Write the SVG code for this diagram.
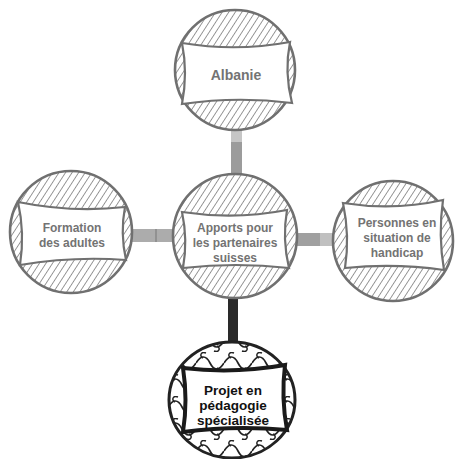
<svg xmlns="http://www.w3.org/2000/svg" width="455" height="459" viewBox="0 0 455 459">
<style>
.ring{fill:url(#hatch);stroke:#707070;stroke-width:2.6}
.box{fill:#fff;stroke:#707070;stroke-width:2.2}
.lbl{font-family:"Liberation Sans",Arial,sans-serif;font-weight:bold;font-size:12px;fill:#737373;text-anchor:middle}
.big{font-size:14px}
.dring{fill:url(#swirl);stroke:#222;stroke-width:3}
.dbox{fill:#fff;stroke:#1a1a1a;stroke-width:4}
.dlbl{fill:#111;font-size:13.5px}
</style>
<defs>
<pattern id="hatch" patternUnits="userSpaceOnUse" width="5.5" height="6" patternTransform="rotate(33)">
<rect width="5.5" height="6" fill="#fff"/>
<line x1="0" y1="0" x2="0" y2="6" stroke="#6e6e6e" stroke-width="1.4"/>
</pattern>
<pattern id="swirl" patternUnits="userSpaceOnUse" width="28" height="22">
<rect width="28" height="22" fill="#fff"/>
<path d="M0,11 C5,3 10,3 14,11 C18,19 23,19 28,11" fill="none" stroke="#222" stroke-width="1.7"/>
<path d="M7,6 c-4,-2 -2,-7 3,-5 M21,16 c4,2 2,7 -3,5" fill="none" stroke="#222" stroke-width="1.5"/>
</pattern>
</defs>
<rect width="455" height="459" fill="#fff"/>
<g id="connectors">
<rect x="231" y="129" width="11" height="48" fill="#9c9c9c"/>
<rect x="231" y="129" width="11" height="13" fill="#c6c6c6"/>
<rect x="131" y="229" width="43" height="13" fill="#acacac"/>
<line x1="156" y1="229" x2="156" y2="242" stroke="#888" stroke-width="1.5"/>
<rect x="296" y="233" width="38" height="13" fill="#a0a0a0"/>
<rect x="320" y="233" width="14" height="13" fill="#c0c0c0"/>
<rect x="228" y="296" width="10" height="48" fill="#2a2a2a"/>
</g>
<g id="albanie">
<circle class="ring" cx="235" cy="70" r="60"/>
<path class="box" d="M182,43 Q236,52 290,42 Q284,72 292,103 Q237,96 182,104 Q188,73 182,43 Z"/>
<text class="lbl big" x="236" y="80">Albanie</text>
</g>
<g id="apports">
<circle class="ring" cx="235" cy="236" r="62"/>
<path class="box" d="M182,212 Q235,220 287,210 Q282,239 289,268 Q236,262 183,268 Q188,240 182,212 Z"/>
<text class="lbl" x="235" y="232">Apports pour</text>
<text class="lbl" x="235" y="247">les partenaires</text>
<text class="lbl" x="235" y="262">suisses</text>
</g>
<g id="formation">
<circle class="ring" cx="71" cy="232" r="61"/>
<path class="box" d="M18,202 Q72,213 125,207 Q120,233 126,260 Q73,256 20,265 Q25,233 18,202 Z"/>
<text class="lbl" x="72" y="232">Formation</text>
<text class="lbl" x="72" y="247">des adultes</text>
</g>
<g id="handicap">
<circle class="ring" cx="393" cy="241" r="60"/>
<path class="box" d="M343,203 Q394,211 443,200 Q438,235 444,270 Q395,263 345,268 Q350,236 343,203 Z"/>
<text class="lbl" x="397" y="227">Personnes en</text>
<text class="lbl" x="397" y="242">situation de</text>
<text class="lbl" x="397" y="257">handicap</text>
</g>
<g id="projet">
<ellipse class="dring" cx="232" cy="400" rx="63" ry="58"/>
<path class="dbox" d="M183,368 Q234,374 285,365 Q281,398 287,430 Q235,425 183,432 Q188,400 183,368 Z"/>
<text class="lbl dlbl" x="233" y="395">Projet en</text>
<text class="lbl dlbl" x="233" y="410">pédagogie</text>
<text class="lbl dlbl" x="233" y="425">spécialisée</text>
</g>
</svg>
